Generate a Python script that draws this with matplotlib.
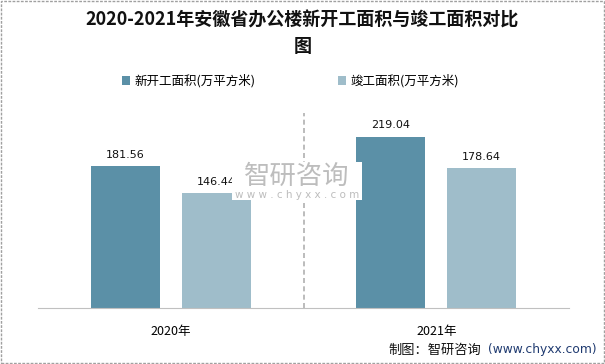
import matplotlib.pyplot as plt
import numpy as np
from matplotlib.patches import Rectangle

plt.rcParams['font.family'] = ['Noto Sans CJK SC', 'DejaVu Sans']

years = ['2020年', '2021年']
series_names = ['新开工面积(万平方米)', '竣工面积(万平方米)']
new_start = [181.56, 219.04]
completed = [146.44, 178.64]
colors = ['#5b90a7', '#9fbdca']

W, H = 605, 364
fig = plt.figure(figsize=(W / 100, H / 100), dpi=100)
ax = fig.add_axes([38 / W, 1 - 308 / H, 531 / W, 208 / H])

x = np.arange(len(years))
off = 0.171
bw = 0.26
b1 = ax.bar(x - off, new_start, bw, color=colors[0], label=series_names[0])
b2 = ax.bar(x + off, completed, bw, color=colors[1], label=series_names[1])

for bars, vals in ((b1, new_start), (b2, completed)):
    for r, v in zip(bars, vals):
        ax.text(r.get_x() + r.get_width() / 2, v + 8, f'{v:.2f}',
                ha='center', va='bottom', fontsize=8, color='#111111',
                family=['DejaVu Sans'])

ax.set_xlim(-0.5, 1.5)
ax.set_ylim(0, 208 / 0.782)
ax.axvline(0.5, ymin=0, ymax=(308 - 113) / 208, color='#b0b0b0', ls=(0, (3, 2)), lw=1.2)

for s in ['top', 'right', 'left']:
    ax.spines[s].set_visible(False)
ax.spines['bottom'].set_color('#c0c0c0')
ax.set_yticks([])
ax.set_xticks(x)
ax.set_xticklabels(years, fontsize=9)
ax.tick_params(axis='x', length=0, pad=12)

fig.text(0.5, 1 - 20 / H, '2020-2021年安徽省办公楼新开工面积与竣工面积对比', ha='center', va='center',
         fontsize=13, fontweight='bold', color='#111111')
fig.text(0.5, 1 - 47 / H, '图', ha='center', va='center', fontsize=13,
         fontweight='bold', color='#111111')

fig.legend(handles=[b1, b2], labels=series_names, loc='center',
           bbox_to_anchor=(290 / W, 1 - 81 / H), ncol=2, frameon=False, fontsize=9,
           handlelength=0.7, handleheight=0.7, columnspacing=6.6, handletextpad=0.3)

# watermark with white backing box
fig.add_artist(Rectangle((232 / W, 1 - 200 / H), 130 / W, 38 / H, transform=fig.transFigure,
                         facecolor='white', edgecolor='none', zorder=5))
fig.text(297 / W, 1 - 176 / H, '智研咨询', ha='center', va='center', fontsize=19,
         color='#bdbdbd', zorder=6)
fig.text(297 / W, 1 - 195 / H, 'w w w . c h y x x . c o m', ha='center', va='center',
         fontsize=7.5, color='#bdbdbd', family=['DejaVu Sans'], zorder=6)

fig.text(388 / W, 1 - 350 / H, '制图：智研咨询', ha='left', va='center', fontsize=9.5,
         color='#111111')
fig.text(597 / W, 1 - 350 / H, '(www.chyxx.com)', ha='right', va='center', fontsize=8.8,
         color='#1f3a70', family=['DejaVu Sans'])

fig.add_artist(Rectangle((0.002, 0.003), 0.996, 0.994, transform=fig.transFigure,
                         fill=False, edgecolor='#a0a0a0', lw=1, ls=(0, (2, 1))))

fig.savefig('out.png', dpi=100)
